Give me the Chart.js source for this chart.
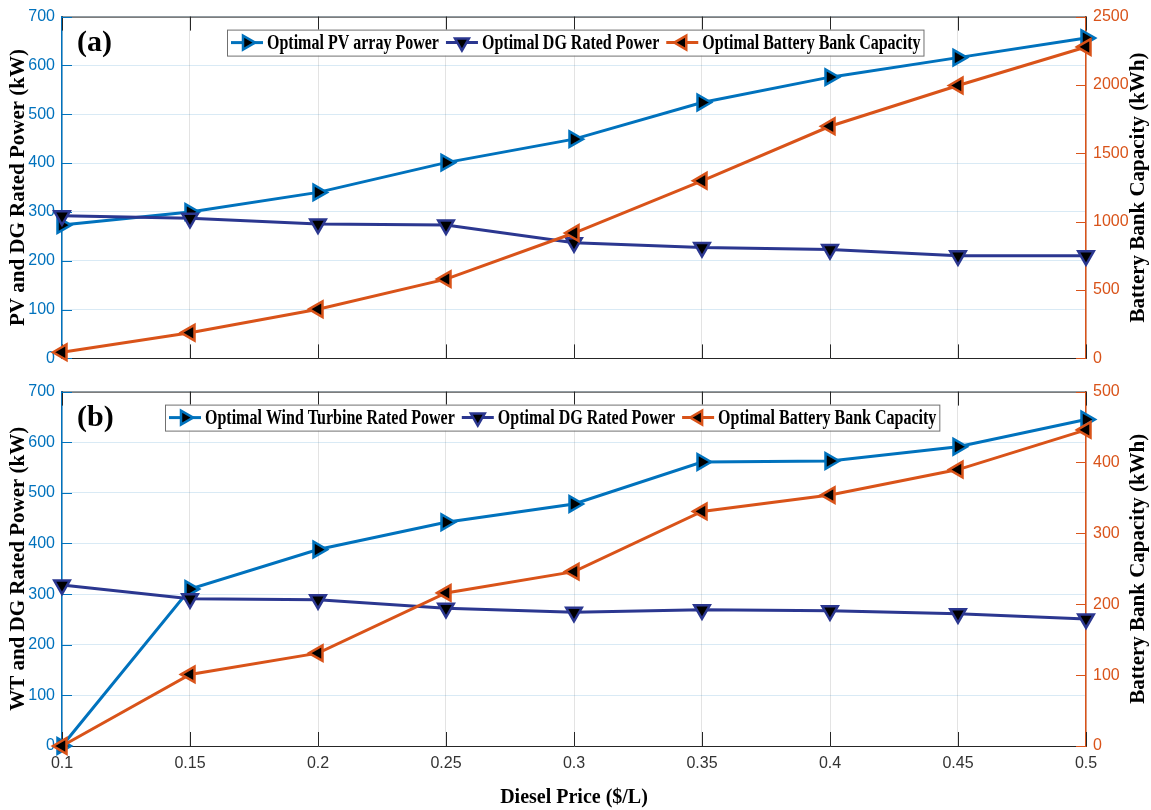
<!DOCTYPE html>
<html>
<head>
<meta charset="utf-8">
<script src="https://cdn.jsdelivr.net/npm/chart.js@4/dist/chart.umd.min.js"></script>
<style>
    html, body { margin: 0; padding: 0; background: #fff; }
    #wrap { position: relative; width: 1151px; height: 810px; }
    .panel { position: absolute; left: 0; width: 1151px; }
</style>
</head>
<body>
<div id="wrap">
    <div class="panel" style="top:0;height:375px"><canvas id="chartA"></canvas></div>
    <div class="panel" style="top:375px;height:435px"><canvas id="chartB"></canvas></div>
</div>
<script>
// data
const diesel_price = [0.1, 0.15, 0.2, 0.25, 0.3, 0.35, 0.4, 0.45, 0.5];

// (a) PV / DG / battery
const pv_power   = [273, 300, 340, 401, 449, 524, 576, 616, 656];
const dg_power_a = [292, 287, 275, 273, 237, 227, 223, 210, 210];
const battery_a  = [45, 188, 360, 580, 917, 1299, 1698, 1996, 2278];

// (b) WT / DG / battery
const wt_power   = [0, 310, 388, 442, 478, 561, 563, 591, 645];
const dg_power_b = [318, 291, 289, 272, 264, 269, 267, 261, 251];
const battery_b  = [0, 101, 131, 216, 246, 331, 354, 390, 446];

const power_ticks     = [0, 100, 200, 300, 400, 500, 600, 700];
const battery_ticks_a = [0, 500, 1000, 1500, 2000, 2500];
const battery_ticks_b = [0, 100, 200, 300, 400, 500];

const c_blue = '#0072BD';
const c_navy = '#2B3790';
const c_orange = '#D95319';
const tick_font = { family: "'Liberation Sans Narrow', 'Liberation Sans', Arial, sans-serif", size: 16 };
const serif = "'Liberation Serif', 'Times New Roman', serif";

function draw_tri(ctx, x, y, r, rot, color) {
    ctx.beginPath();
    for (let i = 0; i < 3; i++) {
        const ang = (rot + i * 120) * Math.PI / 180;
        const px = x + Math.sin(ang) * r, py = y - Math.cos(ang) * r;
        if (i) ctx.lineTo(px, py); else ctx.moveTo(px, py);
    }
    ctx.closePath();
    ctx.fillStyle = '#000';
    ctx.fill();
    ctx.lineWidth = 2.5;
    ctx.strokeStyle = color;
    ctx.stroke();
}

// inward ticks, top border, legend box, right title and panel letter
const frame_plugin = {
    id: 'frame',
    beforeDatasetsDraw(chart) {
        const ctx = chart.ctx, a = chart.chartArea;
        const xs = chart.scales.x, yl = chart.scales.y, yr = chart.scales.y1;
        ctx.save();
        ctx.lineWidth = 1;
        ctx.strokeStyle = '#262626';
        ctx.beginPath();
        ctx.moveTo(a.left, a.top + 0.5);
        ctx.lineTo(a.right, a.top + 0.5);
        xs.ticks.forEach(t => {
            const px = Math.round(xs.getPixelForValue(t.value)) + 0.5;
            ctx.moveTo(px, a.bottom); ctx.lineTo(px, a.bottom - 14);
            ctx.moveTo(px, a.top); ctx.lineTo(px, a.top + 14);
        });
        ctx.stroke();
        ctx.strokeStyle = c_blue;
        ctx.beginPath();
        yl.ticks.forEach(t => {
            const py = Math.round(yl.getPixelForValue(t.value)) + 0.5;
            ctx.moveTo(a.left, py); ctx.lineTo(a.left + 10, py);
        });
        ctx.stroke();
        ctx.strokeStyle = c_orange;
        ctx.beginPath();
        yr.ticks.forEach(t => {
            const py = Math.round(yr.getPixelForValue(t.value)) + 0.5;
            ctx.moveTo(a.right, py); ctx.lineTo(a.right - 10, py);
        });
        ctx.stroke();
        ctx.restore();
    },
    afterDraw(chart, args, opts) {
        const ctx = chart.ctx, a = chart.chartArea;
        ctx.save();
        // right axis title, reading upwards like the left one
        ctx.save();
        ctx.translate(chart.width - 12, (a.top + a.bottom) / 2);
        ctx.rotate(-Math.PI / 2);
        ctx.font = 'bold 21px ' + serif;
        ctx.fillStyle = '#000';
        ctx.textAlign = 'center';
        ctx.textBaseline = 'middle';
        ctx.fillText(opts.right_title, 0, 0);
        ctx.restore();

        // panel letter
        ctx.font = 'bold 30px ' + serif;
        ctx.fillStyle = '#000';
        ctx.textBaseline = 'middle';
        ctx.fillText(opts.letter, a.left + 15, a.top + 27);

        // legend
        ctx.font = 'bold 20px ' + serif;
        const sx = 0.8, h = 26;
        let x = opts.legend_x + 4;
        const top = a.top + opts.legend_dy, cy = top + h / 2;
        const items = chart.data.datasets.map(ds => ({ ds, w: ctx.measureText(ds.label).width * sx }));
        const total = items.reduce((s, it) => s + 36 + it.w, 0) + 7 * (items.length - 1) + 7;
        ctx.fillStyle = '#fff';
        ctx.fillRect(opts.legend_x, top, total, h);
        ctx.strokeStyle = '#707070';
        ctx.lineWidth = 1;
        ctx.strokeRect(opts.legend_x + 0.5, top + 0.5, total, h);
        items.forEach(it => {
            const ds = it.ds;
            ctx.strokeStyle = ds.borderColor;
            ctx.lineWidth = 3;
            ctx.beginPath();
            ctx.moveTo(x, cy); ctx.lineTo(x + 32, cy);
            ctx.stroke();
            draw_tri(ctx, x + 16, cy, 8, ds.pointRotation, ds.borderColor);
            x += 36;
            ctx.save();
            ctx.translate(x, cy + 1);
            ctx.scale(sx, 1);
            ctx.fillStyle = '#000';
            ctx.textBaseline = 'middle';
            ctx.fillText(ds.label, 0, 0);
            ctx.restore();
            x += it.w + 7;
        });
        ctx.restore();
    }
};

function line_set(label, values, color, rot, axis, order) {
    return {
        label: label,
        data: diesel_price.map((p, i) => ({ x: p, y: values[i] })),
        yAxisID: axis,
        borderColor: color,
        borderWidth: 3,
        pointStyle: 'triangle',
        pointRotation: rot,
        pointRadius: 9,
        pointBorderWidth: 2.5,
        pointBackgroundColor: '#000',
        pointBorderColor: color,
        tension: 0,
        clip: false,
        order: order
    };
}

function set_ticks(list) {
    return s => { s.ticks = list.map(v => ({ value: v })); };
}

function build_chart(id, cfg) {
    return new Chart(document.getElementById(id), {
        type: 'line',
        data: {
            datasets: [
                line_set(cfg.names[0], cfg.first, c_blue, 90, 'y', 3),
                line_set(cfg.names[1], cfg.dg, c_navy, 180, 'y', 2),
                line_set(cfg.names[2], cfg.battery, c_orange, 270, 'y1', 1)
            ]
        },
        options: {
            responsive: true,
            maintainAspectRatio: false,
            animation: false,
            layout: { padding: { top: cfg.pad_top, left: 0, right: 0, bottom: 0 } },
            plugins: {
                legend: { display: false },
                tooltip: { enabled: false },
                frame: {
                    letter: cfg.letter,
                    legend_x: cfg.legend_x,
                    legend_dy: 13,
                    right_title: 'Battery Bank Capacity (kWh)'
                }
            },
            scales: {
                x: {
                    type: 'linear',
                    min: diesel_price[0],
                    max: diesel_price[diesel_price.length - 1],
                    afterBuildTicks: set_ticks(diesel_price),
                    ticks: {
                        display: cfg.show_x,
                        color: '#333',
                        font: tick_font,
                        padding: 8,
                        callback: v => String(+v.toFixed(2))
                    },
                    grid: { color: 'rgba(38,38,38,0.13)', drawTicks: false },
                    border: { color: '#262626', width: 1 },
                    title: {
                        display: cfg.show_x,
                        text: 'Diesel Price ($/L)',
                        color: '#000',
                        font: { family: serif, size: 20, weight: 'bold' },
                        padding: { top: 2, bottom: 0 }
                    },
                    afterFit: s => { s.height = cfg.x_height; }
                },
                y: {
                    position: 'left',
                    min: 0,
                    max: power_ticks[power_ticks.length - 1],
                    afterBuildTicks: set_ticks(power_ticks),
                    ticks: { color: c_blue, font: tick_font, padding: 7, callback: v => String(v) },
                    grid: { color: 'rgba(0,114,189,0.15)', drawTicks: false },
                    border: { color: c_blue, width: 1.5 },
                    title: {
                        display: true,
                        text: cfg.left_title,
                        color: '#000',
                        font: { family: serif, size: 21, weight: 'bold' },
                        padding: { top: 6, bottom: 0 }
                    },
                    afterFit: s => { s.width = 62; }
                },
                y1: {
                    position: 'right',
                    min: 0,
                    max: cfg.right_ticks[cfg.right_ticks.length - 1],
                    afterBuildTicks: set_ticks(cfg.right_ticks),
                    ticks: { color: c_orange, font: tick_font, padding: 7, callback: v => String(v) },
                    grid: { drawOnChartArea: false, drawTicks: false },
                    border: { color: c_orange, width: 1.5 },
                    title: { display: false },
                    afterFit: s => { s.width = 65; }
                }
            }
        },
        plugins: [frame_plugin]
    });
}

build_chart('chartA', {
    names: ['Optimal PV array Power', 'Optimal DG Rated Power', 'Optimal Battery Bank Capacity'],
    first: pv_power, dg: dg_power_a, battery: battery_a,
    right_ticks: battery_ticks_a,
    left_title: 'PV and DG Rated Power (kW)',
    letter: '(a)', legend_x: 227,
    pad_top: 14, x_height: 12, show_x: false
});

build_chart('chartB', {
    names: ['Optimal Wind Turbine Rated Power', 'Optimal DG Rated Power', 'Optimal Battery Bank Capacity'],
    first: wt_power, dg: dg_power_b, battery: battery_b,
    right_ticks: battery_ticks_b,
    left_title: 'WT and DG Rated Power (kW)',
    letter: '(b)', legend_x: 165,
    pad_top: 8, x_height: 64, show_x: true
});
</script>
</body>
</html>
